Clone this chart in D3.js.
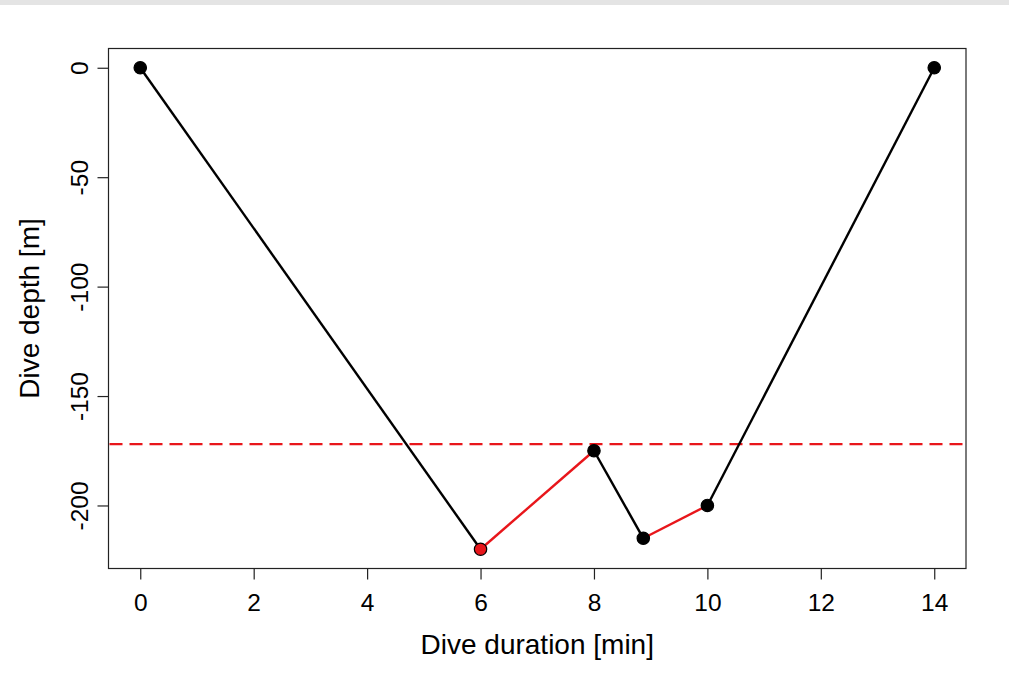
<!DOCTYPE html>
<html><head><meta charset="utf-8">
<script src="https://cdn.jsdelivr.net/npm/d3@7"></script>
<style>html,body{margin:0;padding:0;background:#fff;}svg{display:block;font-family:"Liberation Sans",Arial,sans-serif;}</style>
</head><body>
<script>
const durations = [0, 6, 8, 8.87, 10, 14];
const depths = [0, -220, -175, -215, -200, 0];
const segmentColors = ["black", "red", "black", "red", "black"];
const pointFills = ["black", "red", "black", "black", "black", "black"];
const threshold = -172;
const xTicks = [0, 2, 4, 6, 8, 10, 12, 14];
const yTicks = [0, -50, -100, -150, -200];
const xTitle = "Dive duration [min]";
const yTitle = "Dive depth [m]";

(function(){
const W = 1009, H = 675;
const svg = d3.select("body").append("svg").attr("width", W).attr("height", H);
svg.append("rect").attr("x",0).attr("y",0).attr("width",W).attr("height",5).attr("fill","#e4e4e4");

const pl = 108.5, pr = 966, pt = 48.5, pb = 568.5;
const xr = [d3.min(durations), d3.max(durations)], xe = (xr[1]-xr[0])*0.04;
const yr = [d3.min(depths), d3.max(depths)], ye = (yr[1]-yr[0])*0.04;
const x = d3.scaleLinear().domain([xr[0]-xe, xr[1]+xe]).range([pl, pr]);
const y = d3.scaleLinear().domain([yr[0]-ye, yr[1]+ye]).range([pb, pt]);
const RED = "#e8161b";
const col = c => c === "red" ? RED : "#000";
const fmt = d => String(d);

svg.append("rect").attr("x",pl).attr("y",pt).attr("width",pr-pl).attr("height",pb-pt)
  .attr("fill","none").attr("stroke","#222").attr("stroke-width",1.2);

const xa = svg.append("g").attr("transform",`translate(0,${pb})`)
  .call(d3.axisBottom(x).tickValues(xTicks).tickSize(11).tickSizeOuter(0).tickPadding(0).tickFormat(fmt));
xa.select(".domain").remove();
xa.selectAll(".tick line").attr("stroke","#222").attr("stroke-width",1.2);
xa.selectAll(".tick text").attr("dy",null).attr("y",42).attr("font-size",24.5).attr("fill","#000")
  .attr("font-family","Liberation Sans, Arial, sans-serif");

const ya = svg.append("g").attr("transform",`translate(${pl},0)`)
  .call(d3.axisLeft(y).tickValues(yTicks).tickSize(11).tickSizeOuter(0).tickFormat(fmt));
ya.select(".domain").remove();
ya.selectAll(".tick line").attr("stroke","#222").attr("stroke-width",1.2);
ya.selectAll(".tick text").attr("x",null).attr("dy",null).attr("text-anchor","middle")
  .attr("transform","translate(-21,0) rotate(-90)").attr("font-size",24.5).attr("fill","#000")
  .attr("font-family","Liberation Sans, Arial, sans-serif");

svg.append("text").attr("x",(pl+pr)/2).attr("y",654).attr("text-anchor","middle")
  .attr("font-size",28).text(xTitle);
svg.append("text").attr("transform",`translate(38.5,${(pt+pb)/2}) rotate(-90)`).attr("text-anchor","middle")
  .attr("font-size",28).text(yTitle);

svg.append("line").attr("x1",pl+1).attr("x2",pr-1).attr("y1",y(threshold)).attr("y2",y(threshold))
  .attr("stroke",RED).attr("stroke-width",2.3).attr("stroke-dasharray","13,7");

const pts = durations.map((d,i)=>({x:d, y:depths[i], fill:pointFills[i]}));
const segs = segmentColors.map((c,i)=>({a:pts[i], b:pts[i+1], c}));
svg.append("g").selectAll("line").data(segs).join("line")
  .attr("x1",d=>x(d.a.x)).attr("y1",d=>y(d.a.y)).attr("x2",d=>x(d.b.x)).attr("y2",d=>y(d.b.y))
  .attr("stroke",d=>col(d.c)).attr("stroke-width",2.4);

svg.append("g").selectAll("circle").data(pts).join("circle")
  .attr("cx",d=>x(d.x)).attr("cy",d=>y(d.y)).attr("r",6.2)
  .attr("fill",d=>col(d.fill)).attr("stroke","#000").attr("stroke-width",1.2);
})();
</script>
</body></html>
